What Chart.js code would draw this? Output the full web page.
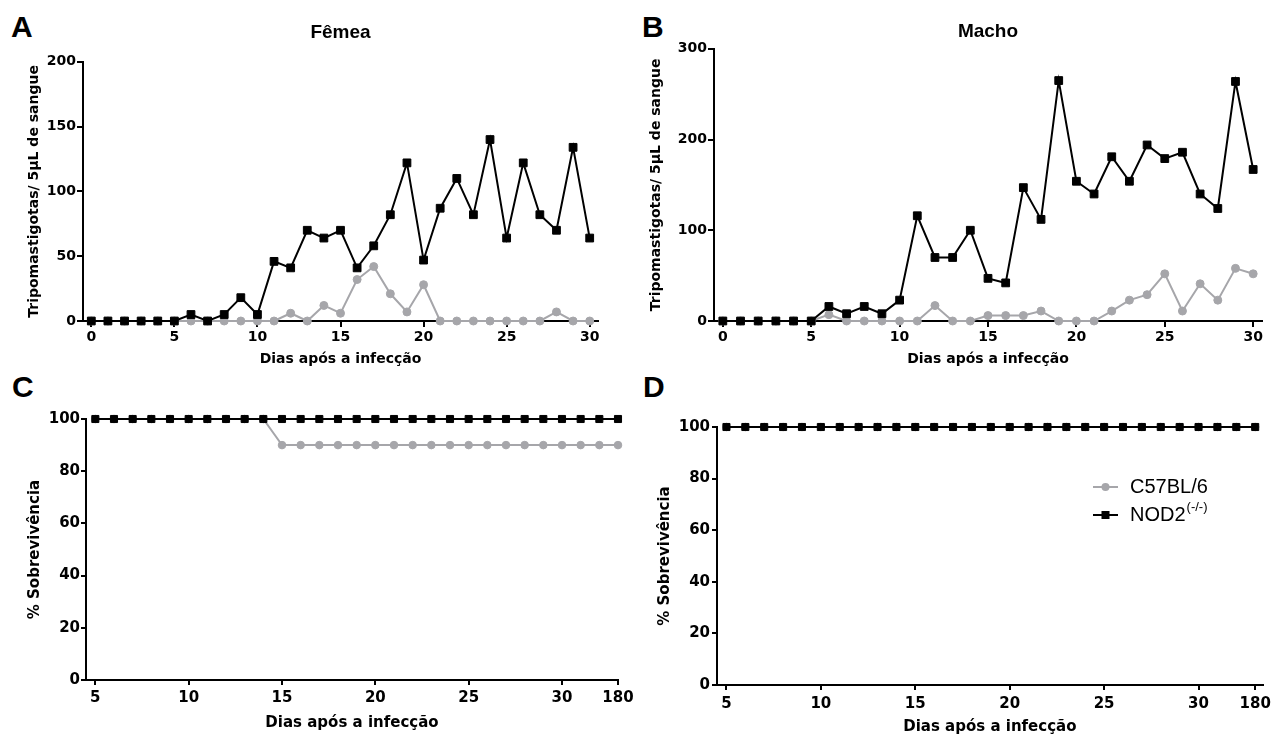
<!DOCTYPE html>
<html>
<head>
<meta charset="utf-8">
<script src="https://cdn.jsdelivr.net/npm/chart.js@4.4.0/dist/chart.umd.min.js"></script>
<style>
  body { margin: 0; background: #fff; width: 1276px; height: 736px; position: relative; overflow: hidden; font-family: "Liberation Sans", Arial, sans-serif; }
  canvas { position: absolute; }
  .letter { position: absolute; font-weight: bold; font-size: 30px; line-height: 30px; color: #000; }
</style>
</head>
<body>
<div class="letter" style="left:11px;top:12px">A</div>
<div class="letter" style="left:642px;top:12px">B</div>
<div class="letter" style="left:12px;top:372px">C</div>
<div class="letter" style="left:643px;top:372px">D</div>

<canvas id="chartA" width="620" height="372" style="left:0;top:0"></canvas>
<canvas id="chartB" width="636" height="372" style="left:640px;top:0"></canvas>
<canvas id="chartC" width="640" height="364" style="left:0;top:372px"></canvas>
<canvas id="chartD" width="636" height="364" style="left:640px;top:372px"></canvas>

<script>
// parasitemia, days 0..30
const days = [0, 1, 2, 3, 4, 5, 6, 7, 8, 9, 10, 11, 12, 13, 14, 15, 16, 17, 18, 19, 20, 21, 22, 23, 24, 25, 26, 27, 28, 29, 30];
const dayTicks = [0, 5, 10, 15, 20, 25, 30];

const femeaC57 = [0, 0, 0, 0, 0, 0, 0, 0, 0, 0, 0, 0, 6, 0, 12, 6, 32, 42, 21, 7, 28, 0, 0, 0, 0, 0, 0, 0, 7, 0, 0];
const femeaNOD2 = [0, 0, 0, 0, 0, 0, 5, 0, 5, 18, 5, 46, 41, 70, 64, 70, 41, 58, 82, 122, 47, 87, 110, 82, 140, 64, 122, 82, 70, 134, 64];
const femeaYTicks = [0, 50, 100, 150, 200];

const machoC57 = [0, 0, 0, 0, 0, 0, 7, 0, 0, 0, 0, 0, 17, 0, 0, 6, 6, 6, 11, 0, 0, 0, 11, 23, 29, 52, 11, 41, 23, 58, 52];
const machoNOD2 = [0, 0, 0, 0, 0, 0, 16, 8, 16, 8, 23, 116, 70, 70, 100, 47, 42, 147, 112, 265, 154, 140, 181, 154, 194, 179, 186, 140, 124, 264, 167];
const machoYTicks = [0, 100, 200, 300];

// survival (broken x axis: 5..32 then 180)
const survDays = [5, 6, 7, 8, 9, 10, 11, 12, 13, 14, 15, 16, 17, 18, 19, 20, 21, 22, 23, 24, 25, 26, 27, 28, 29, 30, 31, 32, 180];
const survTicks = [5, 10, 15, 20, 25, 30, 180];
const survYTicks = [0, 20, 40, 60, 80, 100];

const survFemeaC57 = [100, 100, 100, 100, 100, 100, 100, 100, 100, 100, 90, 90, 90, 90, 90, 90, 90, 90, 90, 90, 90, 90, 90, 90, 90, 90, 90, 90, 90];
const survFemeaNOD2 = [100, 100, 100, 100, 100, 100, 100, 100, 100, 100, 100, 100, 100, 100, 100, 100, 100, 100, 100, 100, 100, 100, 100, 100, 100, 100, 100, 100, 100];
const survMachoC57 = [100, 100, 100, 100, 100, 100, 100, 100, 100, 100, 100, 100, 100, 100, 100, 100, 100, 100, 100, 100, 100, 100, 100, 100, 100, 100, 100, 100, 100];
const survMachoNOD2 = [100, 100, 100, 100, 100, 100, 100, 100, 100, 100, 100, 100, 100, 100, 100, 100, 100, 100, 100, 100, 100, 100, 100, 100, 100, 100, 100, 100, 100];

const labelC57 = "C57BL/6";
const labelNOD2 = "NOD2(-/-)";

const BLACK = "#000000";
const GRAY = "#a6a6aa";

Chart.defaults.font.family = "'DejaVu Sans', sans-serif";
Chart.defaults.font.weight = "bold";
Chart.defaults.color = BLACK;

function series(label, xs, ys, color, style, r) {
  return {
    label: label,
    data: xs.map((x, i) => ({ x: x, y: ys[i] })),
    borderColor: color,
    backgroundColor: color,
    pointBackgroundColor: color,
    pointBorderColor: color,
    pointBorderWidth: 1,
    borderWidth: 2,
    pointStyle: style,
    pointRadius: r,
    pointHoverRadius: r,
    tension: 0,
    clip: false,
  };
}

function axis(opts) {
  return {
    type: "linear",
    position: opts.position,
    min: opts.min,
    max: opts.max,
    border: { display: true, color: BLACK, width: 2 },
    grid: { display: true, drawOnChartArea: false, drawTicks: true, tickLength: opts.tickLength, color: BLACK, lineWidth: 2 },
    ticks: {
      padding: opts.tickPad,
      font: { size: opts.fontSize, weight: "bold" },
      maxRotation: 0,
      autoSkip: false,
      callback: opts.callback || ((v) => v),
    },
    title: {
      display: true,
      text: opts.title,
      font: { size: opts.fontSize, weight: "bold" },
      padding: opts.titlePad,
    },
    afterBuildTicks: (a) => { a.ticks = opts.ticks.map((v) => ({ value: v })); },
    afterFit: (a) => {
      if (opts.position === "left") a.width = opts.size;
      else a.height = opts.size;
    },
  };
}

// draws the legend inside panel D
const insideLegend = {
  id: "insideLegend",
  afterDraw(chart, args, o) {
    if (!o.show) return;
    const ctx = chart.ctx;
    const items = chart.data.datasets.slice().reverse();
    items.forEach((ds, i) => {
      const y = o.y + i * o.gap;
      const cx = o.x + o.lineLen / 2;
      ctx.save();
      ctx.strokeStyle = ds.borderColor;
      ctx.fillStyle = ds.borderColor;
      ctx.lineWidth = 2;
      ctx.beginPath();
      ctx.moveTo(o.x, y);
      ctx.lineTo(o.x + o.lineLen, y);
      ctx.stroke();
      if (ds.pointStyle === "rect") {
        ctx.fillRect(cx - 4, y - 4, 8, 8);
      } else {
        ctx.beginPath();
        ctx.arc(cx, y, 4, 0, Math.PI * 2);
        ctx.fill();
      }
      ctx.fillStyle = BLACK;
      ctx.textBaseline = "middle";
      ctx.textAlign = "left";
      ctx.font = "20px 'Liberation Sans', Arial, sans-serif";
      const k = ds.label.indexOf("(");
      const main = k >= 0 ? ds.label.slice(0, k) : ds.label;
      ctx.fillText(main, o.x + o.textGap, y);
      if (k >= 0) {
        const w = ctx.measureText(main).width;
        ctx.font = "13px 'Liberation Sans', Arial, sans-serif";
        ctx.fillText(ds.label.slice(k), o.x + o.textGap + w + 1, y - 8);
      }
      ctx.restore();
    });
  },
};

function parasChart(id, title, c57, nod2, yTicks, g) {
  return new Chart(document.getElementById(id), {
    type: "line",
    data: {
      datasets: [
        series(labelNOD2, days, nod2, BLACK, "rect", 5.5),
        series(labelC57, days, c57, GRAY, "circle", 4),
      ],
    },
    options: {
      responsive: false,
      animation: false,
      layout: { padding: { left: 0, right: g.padRight, top: 0, bottom: 0 } },
      plugins: {
        legend: { display: false },
        tooltip: { enabled: false },
        title: {
          display: true,
          text: title,
          fullSize: false,
          font: { family: "'Liberation Sans', Arial, sans-serif", size: 19, weight: "bold" },
          color: BLACK,
          padding: { top: g.titleTop, bottom: g.titleBottom },
        },
      },
      scales: {
        x: axis({
          position: "bottom", min: -0.5, max: 30.5, ticks: dayTicks, tickLength: 6, tickPad: 2,
          fontSize: 14, title: "Dias após a infecção", titlePad: { top: 0, bottom: 4 }, size: 51,
        }),
        y: axis({
          position: "left", min: 0, max: yTicks[yTicks.length - 1], ticks: yTicks, tickLength: 6, tickPad: 1,
          fontSize: 14, title: "Tripomastigotas/ 5μL de sangue", titlePad: { top: g.yTitlePad, bottom: 0 }, size: g.yWidth,
        }),
      },
    },
  });
}

function survChart(id, c57, nod2, g) {
  const idx = survDays.map((d, i) => i);
  return new Chart(document.getElementById(id), {
    type: "line",
    data: {
      datasets: [
        series(labelNOD2, idx, nod2, BLACK, "rect", 5),
        series(labelC57, idx, c57, GRAY, "circle", 3.8),
      ],
    },
    options: {
      responsive: false,
      animation: false,
      layout: { padding: { left: 0, right: g.padRight, top: g.padTop, bottom: 0 } },
      plugins: {
        legend: { display: false },
        tooltip: { enabled: false },
        insideLegend: g.legend,
      },
      scales: {
        x: axis({
          position: "bottom", min: -0.5, max: g.xMax, ticks: survTicks.map((d) => survDays.indexOf(d)),
          tickLength: 5, tickPad: g.xTickPad, fontSize: 15, callback: (v) => survDays[v],
          title: "Dias após a infecção", titlePad: { top: 0, bottom: g.xTitlePad }, size: g.xHeight,
        }),
        y: axis({
          position: "left", min: 0, max: 100, ticks: survYTicks, tickLength: 5, tickPad: g.yTickPad,
          fontSize: 15, title: "% Sobrevivência", titlePad: { top: g.yTitlePad, bottom: 0 }, size: g.yWidth,
        }),
      },
    },
    plugins: [insideLegend],
  });
}

parasChart("chartA", "Fêmea", femeaC57, femeaNOD2, femeaYTicks,
  { padRight: 22, titleTop: 21, titleBottom: 18, yTitlePad: 26, yWidth: 83 });
parasChart("chartB", "Macho", machoC57, machoNOD2, machoYTicks,
  { padRight: 14, titleTop: 20, titleBottom: 6, yTitlePad: 8, yWidth: 74 });

survChart("chartC", survFemeaC57, survFemeaNOD2,
  { padRight: 22, padTop: 47, xMax: 28, xTickPad: 4, xTitlePad: 4, xHeight: 56, yTickPad: 1, yTitlePad: 26, yWidth: 86,
    legend: { show: false } });
survChart("chartD", survMachoC57, survMachoNOD2,
  { padRight: 11, padTop: 55, xMax: 28.4, xTickPad: 5, xTitlePad: 0, xHeight: 51, yTickPad: 2, yTitlePad: 16, yWidth: 77,
    legend: { show: true, x: 453, y: 115, gap: 28, lineLen: 25, textGap: 37 } });
</script>
</body>
</html>
